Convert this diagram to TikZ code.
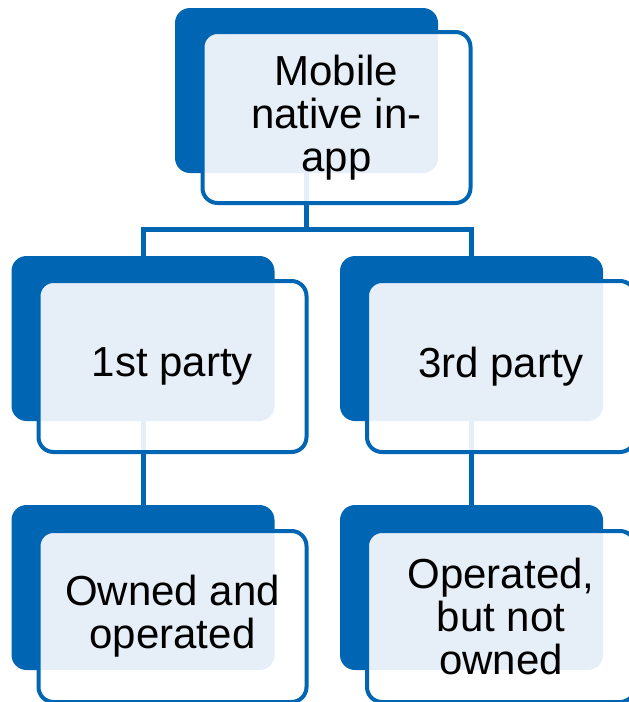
\documentclass[tikz,border=0pt]{standalone}
\usepackage{fontspec}
\setmainfont{Liberation Sans}
\usepackage{tikz}
\usetikzlibrary{calc}

\definecolor{boxblue}{RGB}{0,101,178}

\tikzset{
  backbox/.style={fill=boxblue,rounded corners=15,inner sep=0,minimum width=263,minimum height=165},
  frontbox/.style={draw=boxblue,line width=4,fill=white,fill opacity=0.9,text opacity=1,rounded corners=15,inner sep=0,minimum width=268,minimum height=171,align=center,font=\fontsize{42}{43}\selectfont},
  link/.style={boxblue,line width=5}
}

\begin{document}
\begin{tikzpicture}[x=1pt,y=-1pt]

\clip (0,0) rectangle (629,702);

\node [backbox] (mobileback) at (306.5,90.5) {};
\node [backbox] (firstback) at (143,338.5) {};
\node [backbox] (thirdback) at (471.5,338.5) {};
\node [backbox] (ownedback) at (143,587.5) {};
\node [backbox] (operatedback) at (471.5,587.5) {};

\coordinate (fork) at (306.5,229);
\draw [link] (mobileback.south) -- (fork) -| (firstback.north);
\draw [link] (fork) -| (thirdback.north);
\draw [link] (firstback.south) -- (ownedback.north);
\draw [link] (thirdback.south) -- (operatedback.north);

\node [frontbox] (mobile) at ($(mobileback)+(30,27)$) {Mobile\\native in-\\app};
\node [frontbox] (first) at ($(firstback)+(29.5,28)$) {1st party};
\node [frontbox] (third) at ($(thirdback)+(29.5,28)$) {3rd party};
\node [frontbox] (owned) at ($(ownedback)+(29.5,29)$) {Owned and\\operated};
\node [frontbox] (operated) at ($(operatedback)+(29.5,29)$) {Operated,\\but not\\owned};

\end{tikzpicture}
\end{document}
